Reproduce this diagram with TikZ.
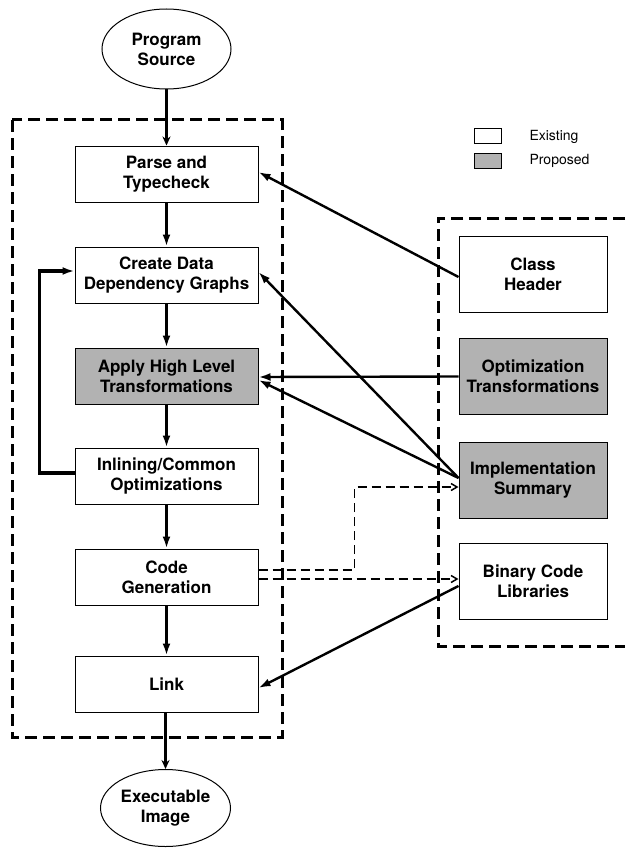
\documentclass[tikz,border=0pt]{standalone}
\usepackage{fontspec}
\setmainfont{TeX Gyre Heros}
\usetikzlibrary{arrows.meta,shapes.geometric}
\begin{document}
\begin{tikzpicture}[x=1pt,y=-1pt,
 lbl/.style={font=\bfseries\fontsize{17}{20}\selectfont, align=center},
 box/.style={lbl, draw, line width=1pt, minimum width=183pt, minimum height=56pt, inner sep=0pt},
 rbox/.style={box, minimum width=148pt, minimum height=76pt},
 prop/.style={fill=black!30},
 oval/.style={lbl, ellipse, draw, line width=1pt, minimum width=129pt, minimum height=80pt, inner sep=0pt},
 group/.style={dash pattern=on 12pt off 6pt, line width=3pt},
 flow/.style={line width=3.8pt, -{Latex[length=12pt,width=8pt]}},
 feed/.style={line width=2.4pt, -{Latex[length=12pt,width=8pt]}},
 term/.style={line width=2.8pt, -{Stealth[length=9pt,width=8pt]}},
 dflow/.style={line width=1.5pt, dash pattern=on 9pt off 5pt, -{Straight Barb[length=6pt,width=7pt]}},
 legtext/.style={anchor=west, font=\fontsize{14}{16}\selectfont},
]
\useasboundingbox (0,0) rectangle (625,848);

% groups
\draw[group] (12,120) rectangle (282,737);
\draw[group] (625,218) -- (438,218) -- (438,646) -- (625,646);

% terminals
\node[oval] (src) at (166.5,49) {Program\\Source};
\node[oval, minimum height=77pt, minimum width=130pt] (exe) at (165.5,808) {Executable\\Image};

% left column
\node[box] (parse) at (166.5,174) {Parse and\\Typecheck};
\node[box] (ddg) at (166.5,275) {Create Data\\Dependency Graphs};
\node[box,prop] (hlt) at (166.5,376) {Apply High Level\\Transformations};
\node[box] (inl) at (166.5,476) {Inlining/Common\\Optimizations};
\node[box] (cg) at (166.5,577) {Code\\Generation};
\node[box] (link) at (166.5,684) {Link};

% right column
\node[rbox] (ch) at (533,274) {Class\\Header};
\node[rbox,prop] (ot) at (533,376.5) {Optimization\\Transformations};
\node[rbox,prop] (is) at (533,480) {Implementation\\Summary};
\node[rbox] (bcl) at (533,581) {Binary Code\\Libraries};

% legend
\node[draw, line width=0.8pt, minimum width=27pt, minimum height=15pt, inner sep=0pt] (lex) at (487.5,135.5) {};
\node[draw, prop, line width=0.8pt, minimum width=27pt, minimum height=15pt, inner sep=0pt] (lpr) at (487.5,160.5) {};
\node[legtext] (lext) at (526,137) {Existing};
\node[legtext] (lprt) at (526,161) {Proposed};

% main flow
\draw[term] (src.south) -- (src.south |- parse.north);
\draw[flow] (parse) -- (ddg);
\draw[flow] (ddg) -- (hlt);
\draw[flow] (hlt) -- (inl);
\draw[flow] (inl) -- (cg);
\draw[flow] (cg) -- (link);
\draw[term] (link.south -| exe.north) -- (exe.north);
\draw[flow] ([yshift=3pt]inl.west) -- ++(-35,0) |- ([yshift=4pt]ddg.west);

% feeds from the right
\draw[feed] ([yshift=-3pt]ch.west) -- ([yshift=2pt]parse.east);
\draw[feed] (ot.west) -- ([yshift=-1pt]hlt.east);
\draw[feed] ([yshift=2pt]is.west) -- ([yshift=3pt]ddg.east);
\draw[feed] ([yshift=2pt]is.west) -- ([yshift=-4pt]hlt.east);
\draw[feed] ([yshift=-5pt]bcl.west) -- ([yshift=-4pt]link.east);

% dashed outputs of code generation
\draw[dflow] ([yshift=7pt]cg.east) -- ++(96,0) |- ([yshift=-7pt]is.west);
\draw[dflow] ([yshift=-2pt]cg.east) -- ([yshift=-2pt]cg.east -| bcl.west);
\end{tikzpicture}
\end{document}
